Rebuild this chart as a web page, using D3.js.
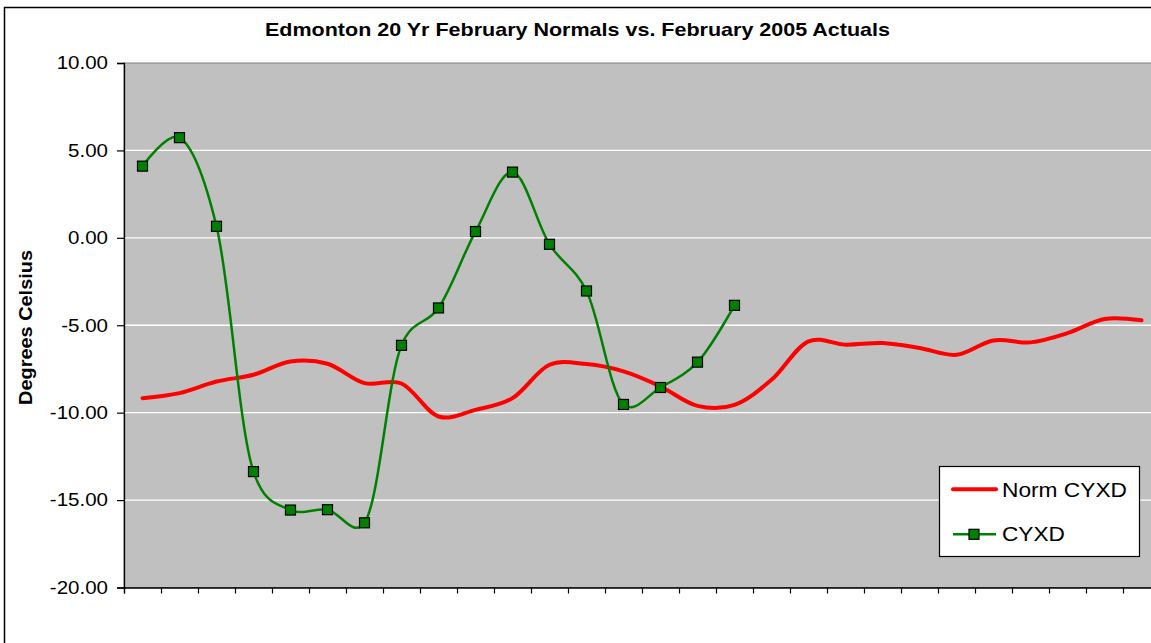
<!DOCTYPE html>
<html>
<head>
<meta charset="utf-8">
<script src="https://cdn.jsdelivr.net/npm/d3@7"></script>
<style>
  html, body { margin: 0; padding: 0; background: #ffffff; }
  svg { display: block; }
  text { font-family: "Liberation Sans", Arial, sans-serif; }
</style>
</head>
<body>
<svg id="chart" width="1151" height="643"></svg>
<script>
// ---- Data ----
const days = [1,2,3,4,5,6,7,8,9,10,11,12,13,14,15,16,17,18,19,20,21,22,23,24,25,26,27,28];
const normCYXD = [-9.17,-8.88,-8.22,-7.83,-7.07,-7.20,-8.31,-8.33,-10.22,-9.84,-9.17,-7.26,-7.22,-7.64,-8.50,-9.61,-9.55,-8.12,-5.92,-6.11,-6.02,-6.30,-6.69,-5.87,-5.98,-5.45,-4.64,-4.72];
const cyxd = [4.10,5.73,0.66,-13.37,-15.57,-15.55,-16.30,-6.15,-4.01,0.36,3.76,-0.37,-3.04,-9.53,-8.56,-7.11,-3.86];
const yTicks = [10,5,0,-5,-10,-15,-20];
const seriesNames = ["Norm CYXD", "CYXD"];
const titleText = "Edmonton 20 Yr February Normals vs. February 2005 Actuals";
const yLabel = "Degrees Celsius";

// ---- Layout ----
const svg = d3.select("#chart");
const plot = { left: 124, top: 63, right: 1160, bottom: 587.5 };

// chart border (extends beyond the photographed area on right/bottom)
svg.append("rect").attr("x", 4.5).attr("y", 7.5).attr("width", 1200).attr("height", 700)
  .attr("fill", "#ffffff").attr("stroke", "#000").attr("stroke-width", 1.5);

const xLin = d3.scaleLinear().domain([0.5, 28.5]).range([plot.left, plot.right]);
const y = d3.scaleLinear().domain([-20, 10]).range([plot.bottom, plot.top]);

// plot background
svg.append("rect").attr("x", plot.left).attr("y", plot.top)
  .attr("width", plot.right - plot.left).attr("height", plot.bottom - plot.top)
  .attr("fill", "#C0C0C0").attr("stroke", "#808080").attr("stroke-width", 1);

// gridlines
svg.append("g").selectAll("line").data(yTicks.filter(t => t > -20 && t < 10)).join("line")
  .attr("x1", plot.left).attr("x2", plot.right)
  .attr("y1", d => y(d)).attr("y2", d => y(d))
  .attr("stroke", "#ffffff").attr("stroke-width", 1.3);

// y axis
const yAxis = svg.append("g").attr("transform", `translate(${plot.left},0)`)
  .call(d3.axisLeft(y).tickValues(yTicks).tickSize(7).tickPadding(9).tickFormat(d => d.toFixed(2)));
yAxis.select(".domain").attr("stroke", "#000").attr("stroke-width", 1.3);
yAxis.selectAll(".tick line").attr("stroke", "#000").attr("stroke-width", 1.2);
yAxis.selectAll(".tick text").attr("font-size", 18).attr("fill", "#000")
  .attr("font-family", "Liberation Sans, Arial, sans-serif")
  .each(function() { const w = this.getComputedTextLength(); d3.select(this).attr("textLength", w * 1.14).attr("lengthAdjust", "spacingAndGlyphs"); });

// x axis (ticks at category boundaries, no labels)
const xAxis = svg.append("g").attr("transform", `translate(0,${plot.bottom})`)
  .call(d3.axisBottom(xLin).tickValues(days.map(d => d - 0.5)).tickSize(6).tickFormat(""));
xAxis.select(".domain").attr("stroke", "#000").attr("stroke-width", 1.3);
xAxis.selectAll(".tick line").attr("stroke", "#000").attr("stroke-width", 1.2);

// lines
const lineGen = d3.line().x((d, i) => xLin(days[i])).y(d => y(d)).curve(d3.curveCatmullRom.alpha(0.2));
svg.append("path").datum(normCYXD).attr("d", lineGen)
  .attr("fill", "none").attr("stroke", "#FF0000").attr("stroke-width", 4)
  .attr("stroke-linejoin", "round").attr("stroke-linecap", "round");
svg.append("path").datum(cyxd).attr("d", lineGen)
  .attr("fill", "none").attr("stroke", "#008000").attr("stroke-width", 2.5)
  .attr("stroke-linejoin", "round");

// markers
const ms = 10;
svg.append("g").selectAll("rect").data(cyxd).join("rect")
  .attr("x", (d, i) => xLin(days[i]) - ms / 2).attr("y", d => y(d) - ms / 2)
  .attr("width", ms).attr("height", ms)
  .attr("fill", "#008000").attr("stroke", "#000").attr("stroke-width", 1.2);

// title
svg.append("text").attr("x", 577.5).attr("y", 36).attr("text-anchor", "middle")
  .attr("font-size", 19).attr("font-weight", "bold").attr("fill", "#000")
  .attr("textLength", 625).attr("lengthAdjust", "spacingAndGlyphs")
  .text(titleText);

// y-axis title
svg.append("text").attr("transform", "translate(32,327.5) rotate(-90)")
  .attr("text-anchor", "middle").attr("font-size", 18.5).attr("font-weight", "bold").attr("fill", "#000")
  .attr("textLength", 155).attr("lengthAdjust", "spacingAndGlyphs")
  .text(yLabel);

// legend
const lg = svg.append("g");
lg.append("rect").attr("x", 939.5).attr("y", 466.5).attr("width", 200).attr("height", 90)
  .attr("fill", "#ffffff").attr("stroke", "#000").attr("stroke-width", 1.2);
lg.append("line").attr("x1", 953).attr("x2", 996).attr("y1", 489.3).attr("y2", 489.3)
  .attr("stroke", "#FF0000").attr("stroke-width", 4).attr("stroke-linecap", "round");
lg.append("text").attr("x", 1002).attr("y", 497).attr("font-size", 21).attr("fill", "#000")
  .attr("textLength", 125).attr("lengthAdjust", "spacingAndGlyphs").text(seriesNames[0]);
lg.append("line").attr("x1", 953).attr("x2", 996).attr("y1", 534.3).attr("y2", 534.3)
  .attr("stroke", "#008000").attr("stroke-width", 2.5);
lg.append("rect").attr("x", 974 - ms / 2).attr("y", 534.3 - ms / 2).attr("width", ms).attr("height", ms)
  .attr("fill", "#008000").attr("stroke", "#000").attr("stroke-width", 1.2);
lg.append("text").attr("x", 1002).attr("y", 541).attr("font-size", 21).attr("fill", "#000")
  .attr("textLength", 63).attr("lengthAdjust", "spacingAndGlyphs").text(seriesNames[1]);
</script>
</body>
</html>
